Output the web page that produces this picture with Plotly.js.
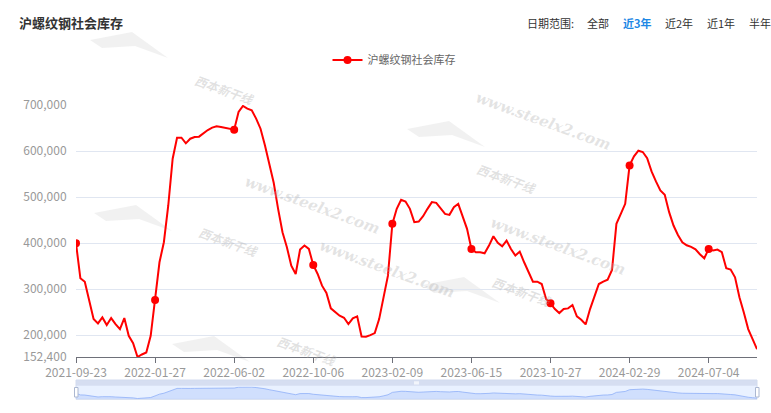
<!DOCTYPE html>
<html>
<head>
<meta charset="utf-8">
<script src="https://cdn.plot.ly/plotly-3.0.1.min.js"></script>
<style>
html,body{margin:0;padding:0;background:#fff;}
#chart{width:771px;height:413px;}
</style>
</head>
<body>
<div id="chart"></div>
<script>
// ---- data ----
const seriesName = "沪螺纹钢社会库存";
const dates = [
"2021-09-23","2021-09-30","2021-10-07","2021-10-14","2021-10-21","2021-10-28","2021-11-04","2021-11-11","2021-11-18","2021-11-25",
"2021-12-02","2021-12-09","2021-12-16","2021-12-23","2021-12-30","2022-01-06","2022-01-13","2022-01-20","2022-01-27","2022-02-03",
"2022-02-10","2022-02-17","2022-02-24","2022-03-03","2022-03-10","2022-03-17","2022-03-24","2022-03-31","2022-04-07","2022-04-14",
"2022-04-21","2022-04-28","2022-05-05","2022-05-12","2022-05-19","2022-05-26","2022-06-02","2022-06-09","2022-06-16","2022-06-23",
"2022-06-30","2022-07-07","2022-07-14","2022-07-21","2022-07-28","2022-08-04","2022-08-11","2022-08-18","2022-08-25","2022-09-01",
"2022-09-08","2022-09-15","2022-09-22","2022-09-29","2022-10-06","2022-10-13","2022-10-20","2022-10-27","2022-11-03","2022-11-10",
"2022-11-17","2022-11-24","2022-12-01","2022-12-08","2022-12-15","2022-12-22","2022-12-29","2023-01-05","2023-01-12","2023-01-19",
"2023-01-26","2023-02-02","2023-02-09","2023-02-16","2023-02-23","2023-03-02","2023-03-09","2023-03-16","2023-03-23","2023-03-30",
"2023-04-06","2023-04-13","2023-04-20","2023-04-27","2023-05-04","2023-05-11","2023-05-18","2023-05-25","2023-06-01","2023-06-08",
"2023-06-15","2023-06-21","2023-06-29","2023-07-06","2023-07-13","2023-07-20","2023-07-27","2023-08-03","2023-08-10","2023-08-17",
"2023-08-24","2023-08-31","2023-09-07","2023-09-14","2023-09-21","2023-09-28","2023-10-12","2023-10-19","2023-10-27","2023-11-02",
"2023-11-09","2023-11-16","2023-11-23","2023-11-30","2023-12-07","2023-12-14","2023-12-21","2023-12-28","2024-01-04","2024-01-11",
"2024-01-18","2024-01-25","2024-02-01","2024-02-08","2024-02-15","2024-02-22","2024-02-29","2024-03-07","2024-03-14","2024-03-21",
"2024-03-28","2024-04-04","2024-04-11","2024-04-18","2024-04-25","2024-05-02","2024-05-09","2024-05-16","2024-05-23","2024-05-30",
"2024-06-06","2024-06-13","2024-06-20","2024-06-27","2024-07-04","2024-07-11","2024-07-18","2024-07-25","2024-08-01","2024-08-08",
"2024-08-15","2024-08-22","2024-08-29","2024-09-05","2024-09-12","2024-09-19"
];
const inventory = [
400000,323600,316000,277000,234900,225500,238500,221800,237100,224000,
213100,237100,198600,182600,152400,157900,162200,198600,276300,358500,
402100,482000,583700,629500,629500,617200,627300,631000,631700,639700,
646200,651300,654200,652800,651300,649900,647000,685500,698500,692700,
689000,671000,649000,612800,569000,531400,474700,423900,391100,351200,
333000,386000,394800,387500,352600,333000,307600,291600,258200,249400,
242200,237800,224000,236400,240700,197100,196400,200000,204400,234900,
278500,329400,442000,474700,494300,490700,474700,445700,447100,458700,
474700,489300,487800,474700,463800,461600,478300,485600,456600,431100,
387500,380300,380300,378100,394800,415100,400600,393300,405700,387500,
373000,381700,358500,336700,316300,316300,311200,278500,269100,256700,
248000,256700,258200,265500,240700,233500,223300,256700,285800,311200,
316300,320700,341700,442000,463800,485600,569200,588800,601200,598300,
585000,556100,534300,514700,505200,467500,438400,418000,402100,395500,
391900,386800,375900,367200,387500,383900,386100,380300,345400,342500,
325800,282200,249400,213100,191300,169500
];
const xTickLabels = ["2021-09-23","2022-01-27","2022-06-02","2022-10-06","2023-02-09","2023-06-15","2023-10-27","2024-02-29","2024-07-04"];
const yTickValues = [152400,200000,300000,400000,500000,600000,700000];
const rangeOptions = ["全部","近3年","近2年","近1年","半年"];
const activeRange = "近3年";

// ---- figure ----
const FONT = "'Noto Sans CJK SC', 'Noto Sans', sans-serif";
const H = 413, T = 105, B = 10, PH = H - T - B;     // paper height
const L = 76, R = 14, PW = 771 - L - R;
const py = y => (H - B - y) / PH;                     // pixel y -> paper
const px = x => (x - L) / PW;                         // pixel x -> paper

const markerY = inventory.map((v, i) => (xTickLabels.includes(dates[i]) ? v : null));

const traces = [
  {
    type: "scatter", mode: "lines", x: dates, y: inventory,
    line: {color: "#ff0000", width: 2}, showlegend: false, hoverinfo: "x+y",
    xaxis: "x", yaxis: "y"
  },
  {
    type: "scatter", mode: "lines+markers", x: dates, y: markerY, name: seriesName,
    connectgaps: false,
    line: {color: "#ff0000", width: 2},
    marker: {color: "#ff0000", size: 8},
    xaxis: "x", yaxis: "y"
  },
  {
    type: "scatter", mode: "lines", x: dates, y: inventory, fill: "tozeroy",
    line: {color: "#8fb0f7", width: 0.8}, fillcolor: "rgba(143,176,247,0.28)",
    showlegend: false, hoverinfo: "skip", xaxis: "x2", yaxis: "y2"
  }
];

const wmText = [
  {t: "www.steelx2.com", x: 615, y: 86},
  {t: "www.steelx2.com", x: 312, y: 170},
  {t: "www.steelx2.com", x: 387, y: 304},
  {t: "www.steelx2.com", x: 630, y: 246}
];
const wmLogo = [
  {x: 190, y: 68}, {x: 194, y: 241}, {x: 507, y: 157}, {x: 522, y: 313}, {x: 272, y: 372}
];

const annotations = [];
const shapes = [];
wmText.forEach(w => annotations.push({
  text: "<i><b>" + w.t + "</b></i>", xref: "paper", yref: "paper", x: px(w.x), y: py(w.y),
  showarrow: false, textangle: 20,
  font: {family: "'DejaVu Serif', 'Liberation Serif', serif", size: 15, color: "rgba(175,175,175,0.35)"}
}));
wmLogo.forEach(w => {
  annotations.push({
    text: "<i><b>西本新干线</b></i>", xref: "paper", yref: "paper", x: px(w.x), y: py(w.y),
    showarrow: false, textangle: 20,
    font: {family: FONT, size: 12, color: "rgba(170,170,170,0.35)"}
  });
  const pts = [[w.x - 100, w.y - 28], [w.x - 58, w.y - 36], [w.x - 22, w.y - 10], [w.x - 55, w.y - 22], [w.x - 88, w.y - 20]];
  shapes.push({
    type: "path", xref: "paper", yref: "paper",
    path: "M" + pts.map(p => px(p[0]) + "," + py(p[1])).join(" L") + " Z",
    fillcolor: "rgba(190,190,190,0.22)", line: {width: 0}, layer: "below"
  });
});

// date range selector text
const rangeX = [585, 621, 663, 705, 747];
annotations.push({
  text: "日期范围:", xref: "paper", yref: "paper", x: px(525), y: py(23),
  xanchor: "left", yanchor: "middle", showarrow: false,
  font: {family: FONT, size: 11, color: "#333"}
});
rangeOptions.forEach((o, i) => annotations.push({
  text: o === activeRange ? "<b>" + o + "</b>" : o,
  xref: "paper", yref: "paper", x: px(rangeX[i]), y: py(23),
  xanchor: "left", yanchor: "middle", showarrow: false,
  font: {family: FONT, size: 11, color: o === activeRange ? "#1e88e5" : "#333"}
}));

shapes.push(
  // slider background
  {type: "rect", xref: "paper", yref: "paper", x0: 0, x1: 1, y0: py(399.3), y1: py(380),
   fillcolor: "rgba(135,175,255,0.18)", line: {color: "#d2dbee", width: 1}, layer: "below"},
  // slider top bar
  {type: "rect", xref: "paper", yref: "paper", x0: 0, x1: 1, y0: py(385.7), y1: py(380),
   fillcolor: "rgba(210,219,238,0.85)", line: {width: 0}},
  {type: "rect", xref: "paper", yref: "paper", x0: px(414), x1: px(419), y0: py(384.5), y1: py(381.3),
   fillcolor: "#f2f5fb", line: {width: 0}},
  // end handles
  {type: "rect", xref: "paper", yref: "paper", x0: px(74.5), x1: px(78), y0: py(397), y1: py(387.5),
   fillcolor: "#ffffff", line: {color: "#acb8d1", width: 1}},
  {type: "rect", xref: "paper", yref: "paper", x0: px(755.5), x1: px(759), y0: py(397), y1: py(387.5),
   fillcolor: "#ffffff", line: {color: "#acb8d1", width: 1}}
);

const layout = {
  width: 771, height: 413,
  margin: {l: L, r: R, t: T, b: B, pad: 0},
  paper_bgcolor: "#fff", plot_bgcolor: "rgba(0,0,0,0)",
  font: {family: FONT, size: 12, color: "#999"},
  title: {
    text: seriesName, xref: "container", yref: "container",
    x: 19 / 771, xanchor: "left", y: (H - 23) / H, yanchor: "middle",
    font: {family: FONT, size: 13, color: "#333", weight: "bold"}
  },
  showlegend: true,
  legend: {
    orientation: "h", x: px(394), xanchor: "center", y: py(60), yanchor: "middle",
    font: {family: FONT, size: 11, color: "#666"}, bgcolor: "rgba(0,0,0,0)",
    itemwidth: 30, tracegroupgap: 0
  },
  xaxis: {
    type: "category", range: [0, dates.length - 1], domain: [0, 1], anchor: "y",
    tickvals: xTickLabels, ticktext: xTickLabels,
    showgrid: false, zeroline: false,
    showline: true, linecolor: "#6e7079", linewidth: 1,
    ticks: "outside", ticklen: 5, tickcolor: "#6e7079", tickwidth: 1,
    tickfont: {family: FONT, size: 12, color: "#999"}, fixedrange: true
  },
  yaxis: {
    domain: [py(357), 1], anchor: "x",
    range: [152400, 700600],
    tickvals: yTickValues, tickformat: ",d",
    showgrid: true, gridcolor: "#e0e6f1", gridwidth: 1,
    zeroline: false, showline: false, ticks: "outside", ticklen: 6, tickcolor: "rgba(0,0,0,0)",
    tickfont: {family: FONT, size: 12, color: "#999"}, fixedrange: true
  },
  xaxis2: {
    type: "category", range: [0, dates.length - 1], domain: [0, 1], anchor: "y2",
    visible: false, fixedrange: true
  },
  yaxis2: {
    domain: [py(399), py(386.5)], anchor: "x2", range: [130000, 720000],
    visible: false, fixedrange: true
  },
  annotations: annotations,
  shapes: shapes,
  hovermode: false
};

Plotly.newPlot("chart", traces, layout, {displayModeBar: false, staticPlot: true});
</script>
</body>
</html>
